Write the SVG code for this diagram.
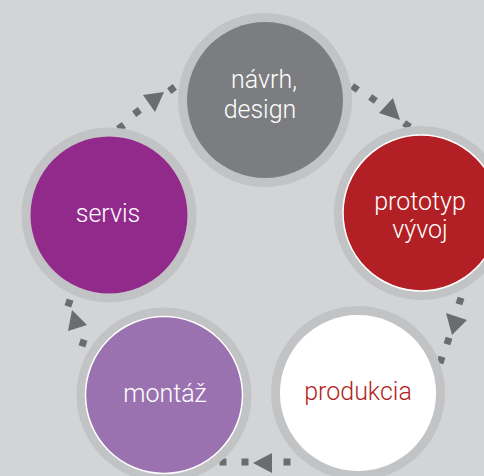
<svg xmlns="http://www.w3.org/2000/svg" width="484" height="476" viewBox="0 0 484 476">
<style>
.bg{fill:#d3d4d6}
.ring{fill:none;stroke:#c2c3c5;stroke-width:9}
.sq,.ah{fill:#6b6c6f}
.lbl{font-family:Roboto,"Liberation Sans",sans-serif;font-size:25px;font-weight:300;text-anchor:middle}
.w{fill:#ffffff}
</style>
<defs>
<rect id="s" x="-3.5" y="-3.5" width="7" height="7" class="sq"/>
</defs>
<rect class="bg" width="484" height="476"/>
<g id="connectors">
<use href="#s" transform="translate(121,127) rotate(-36)"/>
<use href="#s" transform="translate(137,112) rotate(-36)"/>
<polygon class="ah" points="164,92 143,95 155,112"/>
<use href="#s" transform="translate(172,89) rotate(-36)"/>
<use href="#s" transform="translate(355,88) rotate(35)"/>
<use href="#s" transform="translate(373,99) rotate(35)"/>
<polygon class="ah" points="400,120 379,113 393,98"/>
<use href="#s" transform="translate(407,125) rotate(35)"/>
<use href="#s" transform="translate(460,301) rotate(17)"/>
<polygon class="ah" points="452,335 446,313 467,320"/>
<use href="#s" transform="translate(448,341) rotate(17)"/>
<use href="#s" transform="translate(441,360) rotate(17)"/>
<use href="#s" transform="translate(287,462)"/>
<polygon class="ah" points="253,463 272,453 272,473"/>
<use href="#s" transform="translate(245,462)"/>
<use href="#s" transform="translate(223,462)"/>
<use href="#s" transform="translate(83,343) rotate(19)"/>
<polygon class="ah" points="72,310 87,325 68,331"/>
<use href="#s" transform="translate(69,303) rotate(19)"/>
</g>
<g id="navrh">
<circle class="ring" cx="265" cy="100" r="82.5"/>
<circle cx="265" cy="100" r="78" fill="#7c7d80"/>
<text class="lbl w" x="264" y="88">návrh,</text>
<text class="lbl w" x="260" y="118">design</text>
</g>
<g id="prototyp">
<circle class="ring" cx="421" cy="213" r="82.5"/>
<circle cx="421" cy="213" r="78" fill="#b21f24" stroke="#ffffff" stroke-width="1.5"/>
<text class="lbl w" x="420" y="210">prototyp</text>
<text class="lbl w" x="420" y="238">vývoj</text>
</g>
<g id="produkcia">
<circle class="ring" cx="358" cy="393" r="82.5"/>
<circle cx="358" cy="393" r="78" fill="#ffffff"/>
<text class="lbl" x="358" y="400" fill="#b21f24">produkcia</text>
</g>
<g id="montaz">
<circle class="ring" cx="164" cy="395" r="83"/>
<circle cx="164" cy="395" r="78.5" fill="#9b72b0" stroke="#ffffff" stroke-width="1.5"/>
<text class="lbl w" x="165" y="402">montáž</text>
</g>
<g id="servis">
<circle class="ring" cx="109" cy="215" r="83"/>
<circle cx="109" cy="215" r="78.5" fill="#922a8c"/>
<text class="lbl w" x="108" y="222">servis</text>
</g>
</svg>
